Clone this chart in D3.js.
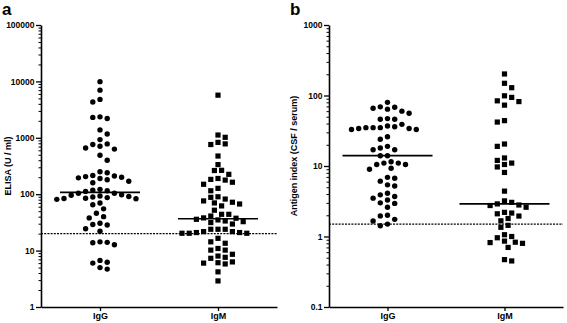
<!DOCTYPE html>
<html>
<head>
<meta charset="utf-8">
<script src="https://cdn.jsdelivr.net/npm/d3@7"></script>
<style>
  body { margin: 0; background: #fff; }
  text { font-family: "Liberation Sans", Arial, sans-serif; font-weight: bold; fill: #000; }
</style>
</head>
<body>
<svg id="chart" width="567" height="323"></svg>
<script>
const groups = ["IgG", "IgM"];

// panel a: ELISA (U / ml)
const elisaIgG = [9900, 7000, 4800, 4300, 2350, 2300, 2200, 1380, 1170, 930, 780, 760, 710, 660, 630, 490, 400,
  240, 250, 215, 210, 205, 200, 195, 190, 180, 170, 160,
  122, 118, 115, 112, 104, 104,
  98, 96, 93, 91, 89, 87, 85, 84, 83, 81,
  70, 65, 55, 46, 40, 38, 30.5, 29, 28.5, 24.4, 22,
  14.3, 14, 13.8, 12.7, 6.0, 6.7, 5.0, 4.7, 6.2];
const elisaIgM = [5700, 1120, 1020, 830, 780, 760, 475, 335, 265, 263, 225,
  190, 183, 178, 163, 150, 127, 115,
  90, 88, 82, 76, 72, 70, 67, 62, 52, 44, 44,
  41, 38, 37.5, 35.9, 35, 33.5, 32.6, 31.4, 29.6,
  23.9, 23.9, 23.9, 21.7, 21.7, 20.9, 20.9, 20.3, 20.3, 20.3,
  16.5, 14.3, 13.5, 10.9, 10.2, 10.2, 8.6, 8.0,
  7.6, 7.3, 6.3, 6.1, 6.0, 5.8, 4.2, 2.9];

// panel b: Antigen index (CSF / serum)
const indexIgG = [80, 69, 68, 66, 64, 60, 56, 47, 46, 46,
  39, 37, 36, 35, 35, 35, 34, 34, 33, 33, 26, 24, 19, 18, 17, 17, 14, 14,
  11.5, 11, 11, 10.5, 10.5, 9.3, 9.0, 6.9, 6.7, 6.1, 5.4, 5.2,
  4.1, 3.9, 3.7, 3.5, 3.3, 3.0, 2.95, 2.6, 2.0, 1.96, 1.75, 1.66, 1.5, 1.42];
const indexIgM = [202, 149, 129, 99, 94, 84, 82, 73, 44, 42, 20.5, 19,
  13, 12, 11, 10.5, 9.7, 8.1, 4.4,
  3.2, 3.05, 2.9, 2.8, 2.75, 2.6, 2.2, 2.15, 2.1, 1.95, 1.8, 1.67,
  1.44, 1.35, 1.06, 1.0, 0.96, 0.86, 0.83, 0.82, 0.80, 0.70, 0.47, 0.45];

const elisaTicks = [1, 10, 100, 1000, 10000, 100000];
const indexTicks = [0.1, 1, 10, 100, 1000];
const elisaCutoff = 20;
const indexCutoff = 1.5;

const svg = d3.select("#chart");

// simple beeswarm: put each point as close to the centre as it can go without overlap
function swarm(vals, y, cx, h, minD) {
  const placed = [];
  const pts = vals.map(v => ({ v: v, py: y(v) })).sort((a, b) => a.py - b.py);
  let flip = 1;
  pts.forEach(p => {
    p.px = cx;
    for (let k = 0; k < 60; k++) {
      const off = k === 0 ? 0 : Math.ceil(k / 2) * h * (k % 2 === 1 ? flip : -flip);
      const px = cx + off;
      if (placed.every(q => Math.hypot(q.px - px, q.py - p.py) >= minD)) { p.px = px; break; }
    }
    placed.push(p);
    flip = -flip;
  });
  return placed;
}

function minorTicks(major) {
  const out = [];
  for (let i = 0; i < major.length - 1; i++) {
    for (let m = 2; m < 10; m++) out.push(major[i] * m);
  }
  return out;
}

function drawPanel(cfg) {
  const g = svg.append("g");
  const x = d3.scalePoint().domain(groups).range([cfg.left, cfg.right]).padding(0.5);
  const y = d3.scaleLog().domain(d3.extent(cfg.ticks)).range([cfg.bottom, cfg.top]);

  // minor ticks
  g.append("g")
    .attr("transform", `translate(${cfg.left},0)`)
    .call(d3.axisLeft(y).tickValues(minorTicks(cfg.ticks)).tickSize(2.5).tickFormat(""))
    .call(a => a.select(".domain").remove())
    .call(a => a.selectAll("line").attr("stroke-width", 1));

  const yAxis = g.append("g")
    .attr("transform", `translate(${cfg.left},0)`)
    .call(d3.axisLeft(y).tickValues(cfg.ticks).tickSize(5).tickSizeOuter(0).tickPadding(1.5)
      .tickFormat(d => d < 1 ? String(d) : d3.format("d")(d)));
  yAxis.select(".domain").attr("stroke-width", 1.6);
  yAxis.selectAll("line").attr("stroke-width", 1.3);
  yAxis.selectAll("text").style("font-size", "8.5px");

  const xAxis = g.append("g")
    .attr("transform", `translate(0,${cfg.bottom})`)
    .call(d3.axisBottom(x).tickSize(4).tickSizeOuter(0).tickPadding(2));
  xAxis.select(".domain").attr("stroke-width", 1.6);
  xAxis.selectAll("line").attr("stroke-width", 1.3);
  xAxis.selectAll("text").style("font-size", "9px");

  // cutoff
  g.append("line")
    .attr("x1", cfg.left).attr("x2", cfg.right)
    .attr("y1", y(cfg.cutoff)).attr("y2", y(cfg.cutoff))
    .attr("stroke", "#000").attr("stroke-width", 1.3)
    .attr("stroke-dasharray", "2,1.2");

  cfg.series.forEach((vals, i) => {
    const cx = x(groups[i]);
    const pts = swarm(vals, y, cx, 3.6, 6.4);
    if (i === 0) {
      g.selectAll(null).data(pts).enter().append("circle")
        .attr("cx", d => d.px).attr("cy", d => d.py).attr("r", 2.7).attr("fill", "#000");
    } else {
      g.selectAll(null).data(pts).enter().append("rect")
        .attr("x", d => d.px - 2.6).attr("y", d => d.py - 2.6)
        .attr("width", 5.2).attr("height", 5.2).attr("fill", "#000");
    }
    const med = d3.median(vals);
    g.append("line")
      .attr("x1", cx - cfg.medHalf).attr("x2", cx + cfg.medHalf)
      .attr("y1", y(med)).attr("y2", y(med))
      .attr("stroke", "#000").attr("stroke-width", 1.7);
  });

  g.append("text")
    .attr("transform", `translate(${cfg.titleX},${cfg.titleY}) rotate(-90)`)
    .attr("text-anchor", "middle")
    .style("font-size", "9px")
    .text(cfg.title);

  g.append("text")
    .attr("x", cfg.labelX).attr("y", 15)
    .style("font-size", "17px")
    .text(cfg.label);
}

drawPanel({
  left: 41, right: 277, top: 25, bottom: 307,
  ticks: elisaTicks, cutoff: elisaCutoff, series: [elisaIgG, elisaIgM],
  medHalf: 40, title: "ELISA (U / ml)", titleX: 11, titleY: 166,
  label: "a", labelX: 2
});

drawPanel({
  left: 329, right: 563, top: 25, bottom: 307,
  ticks: indexTicks, cutoff: indexCutoff, series: [indexIgG, indexIgM],
  medHalf: 45, title: "Antigen index  (CSF / serum)", titleX: 297, titleY: 156,
  label: "b", labelX: 290
});
</script>
</body>
</html>
